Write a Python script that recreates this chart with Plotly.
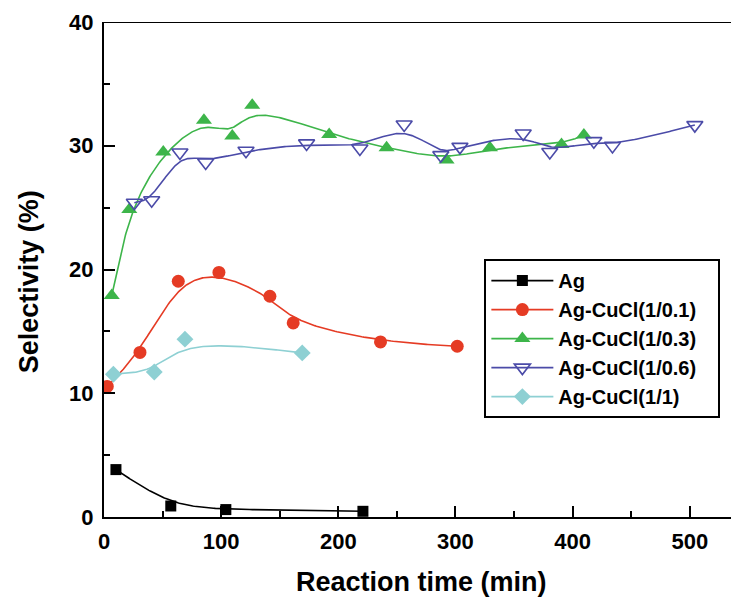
import numpy as np
import plotly.graph_objects as go

# ---- data ----
ag_x = [10.2, 57, 104, 221]
ag_y = [3.83, 0.89, 0.60, 0.46]

c01_x = [2.8, 30.7, 63.4, 98.1, 141.6, 161.5, 236, 301.5]
c01_y = [10.55, 13.3, 19.05, 19.76, 17.84, 15.68, 14.15, 13.8]

c03_x = [6.6, 21.6, 50.6, 85.3, 109.5, 126.5, 192.2, 241.2, 292.4, 329.4, 390.5, 409.6]
c03_y = [17.9, 24.85, 29.5, 32.07, 30.78, 33.28, 30.9, 29.83, 28.84, 29.83, 30.1, 30.86]

c06_x = [25.9, 40.7, 64.8, 86.8, 121.2, 172.9, 218.4, 256.2, 287.5, 303.8, 357.8, 380.5, 418.1, 434, 504.3]
c06_y = [25.4, 25.6, 29.46, 28.65, 29.6, 30.19, 29.78, 31.72, 29.24, 29.91, 30.99, 29.5, 30.37, 29.99, 31.67]

c1_x = [8.0, 42.9, 69.1, 169.2]
c1_y = [11.54, 11.72, 14.37, 13.26]

names = ["Ag", "Ag-CuCl(1/0.1)", "Ag-CuCl(1/0.3)", "Ag-CuCl(1/0.6)", "Ag-CuCl(1/1)"]
x_ticks = [0, 100, 200, 300, 400, 500]
y_ticks = [0, 10, 20, 30, 40]


def bspline(xs, ys, n=40):
    """Uniform cubic B-spline using the data points as control points (clamped ends)."""
    P = np.column_stack([xs, ys]).astype(float)
    P = np.vstack([P[0], P[0], P, P[-1], P[-1]])
    pts = []
    for i in range(len(P) - 3):
        t = np.linspace(0, 1, n)
        b0 = (1 - t) ** 3 / 6
        b1 = (3 * t ** 3 - 6 * t ** 2 + 4) / 6
        b2 = (-3 * t ** 3 + 3 * t ** 2 + 3 * t + 1) / 6
        b3 = t ** 3 / 6
        seg = (b0[:, None] * P[i] + b1[:, None] * P[i + 1]
               + b2[:, None] * P[i + 2] + b3[:, None] * P[i + 3])
        pts.append(seg)
    pts = np.vstack(pts)
    return pts[:, 0], pts[:, 1]


series = [
    (ag_x, ag_y, "#000000", dict(symbol="square", size=11, color="#000000")),
    (c01_x, c01_y, "#E53B24", dict(symbol="circle", size=13, color="#E53B24")),
    (c03_x, c03_y, "#3DB54A", dict(symbol="triangle-up", size=14, color="#3DB54A")),
    (c06_x, c06_y, "#4B4BA8",
     dict(symbol="triangle-down-open", size=14, color="#4B4BA8", line=dict(width=1.6, color="#4B4BA8"))),
    (c1_x, c1_y, "#8ED0D3", dict(symbol="diamond", size=13, color="#8ED0D3")),
]

fig = go.Figure()
for i, (xs, ys, lc, mk) in enumerate(series):
    cx, cy = bspline(xs, ys)
    fig.add_trace(go.Scatter(x=cx, y=cy, mode="lines", line=dict(color=lc, width=1.6),
                             showlegend=False, hoverinfo="skip"))
    fig.add_trace(go.Scatter(x=xs, y=ys, mode="markers", marker=mk, showlegend=False))
    # legend entry
    fig.add_trace(go.Scatter(x=[None], y=[None], mode="lines+markers",
                             name=names[i] + "\u00a0\u00a0\u00a0",
                             line=dict(color=lc, width=1.6), marker=mk,
                             legendgroup=f"g{i}", showlegend=True))

FONT = "Liberation Sans, Arial, sans-serif"
tickfont = dict(family=FONT, size=22, color="black", weight="bold")

fig.update_layout(
    width=731, height=591,
    margin=dict(l=96, r=0, t=14, b=82),
    plot_bgcolor="white", paper_bgcolor="white",
    showlegend=True,
    legend=dict(
        x=0.599, y=0.521, xanchor="left", yanchor="top",
        bordercolor="black", borderwidth=2, bgcolor="white",
        font=dict(family=FONT, size=20, color="black", weight="bold"),
        tracegroupgap=0, itemwidth=62,
    ),
    xaxis=dict(
        range=[0, 542], tickvals=x_ticks, ticktext=[str(v) for v in x_ticks],
        ticks="inside", ticklen=11, tickwidth=2, tickcolor="black",
        showline=True, linecolor="black", linewidth=2,
        showgrid=False, zeroline=False, tickfont=tickfont, ticklabelstandoff=4,
        minor=dict(dtick=50, tick0=0, ticks="inside", ticklen=6, tickwidth=2,
                   tickcolor="black", showgrid=False),
    ),
    yaxis=dict(
        range=[0, 40], tickvals=y_ticks, ticktext=[str(v) for v in y_ticks],
        ticks="inside", ticklen=11, tickwidth=2, tickcolor="black",
        showline=True, linecolor="black", linewidth=2,
        showgrid=False, zeroline=False, tickfont=tickfont, ticklabelstandoff=4,
        minor=dict(dtick=5, tick0=0, ticks="inside", ticklen=6, tickwidth=2,
                   tickcolor="black", showgrid=False),
    ),
    shapes=[dict(type="line", xref="x domain", yref="y", x0=0, x1=1, y0=40, y1=40,
                 line=dict(color="black", width=2))],
    annotations=[
        dict(text="Reaction time (min)", xref="paper", yref="paper", x=0.5, y=-0.132,
             xanchor="center", yanchor="middle", showarrow=False,
             font=dict(family=FONT, size=27, color="black", weight="bold")),
        dict(text="Selectivity (%)", xref="paper", yref="paper", x=-0.119, y=0.475,
             xanchor="center", yanchor="middle", showarrow=False, textangle=-90,
             font=dict(family=FONT, size=27, color="black", weight="bold")),
    ],
)

fig.write_html("out.html")
